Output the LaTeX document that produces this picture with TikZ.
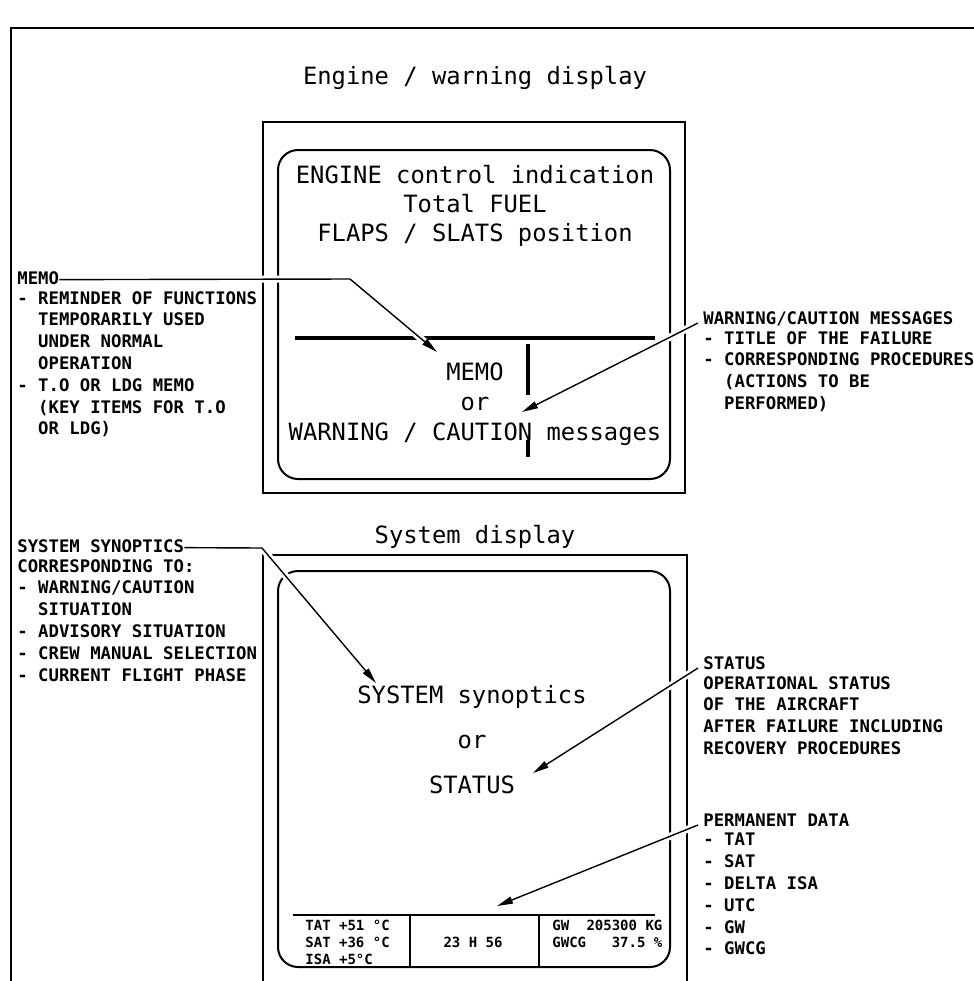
\documentclass[tikz,border=0pt]{standalone}
\usepackage{fontspec}
\setmonofont{DejaVu Sans Mono}
\usepackage{tikz}
\usetikzlibrary{arrows.meta,calc}
\tikzset{>/.tip={Triangle[length=8pt,width=3.6pt]}}
\newcommand{\lblind}{\phantom{- }}

\begin{document}
\begin{tikzpicture}[x=0.5pt,y=-0.5pt,
  disp/.style={font=\ttfamily\fontsize{11.9}{14.5}\selectfont, align=center, inner sep=0pt},
  lbl/.style={font=\ttfamily\bfseries\fontsize{8.65}{10.9}\selectfont, align=left, inner sep=0pt, execute at begin node=\strut},
  datatxt/.style={font=\ttfamily\bfseries\fontsize{7}{8.5}\selectfont, align=left, inner sep=0pt},
  dispframe/.style={line width=1pt},
  divider/.style={line width=2.2pt},
  leader/.style={line width=0.7pt, preaction={draw=white, line width=3.5pt, arrows=-, shorten >=6pt}}]
\useasboundingbox (0,0) rectangle (974,981);

% sheet border
\draw[line width=1pt] (11,981) -- (11,28) -- (974,28);

% engine / warning display
\node[disp] (ewdtitle) at (475,78) {Engine / warning display};
\draw[dispframe] (263,122) rectangle (685,493);
\draw[dispframe, rounded corners=10pt] (278,150) rectangle (670,479);
\node[disp] (engine) at (475,206) {ENGINE control indication\\Total FUEL\\FLAPS / SLATS position};
\draw[divider] (295,338) -- (655,338);
\draw[divider] (528,344) -- (528,395);
\draw[divider] (528,440) -- (528,457);
\node[disp] (memomsg) at (475,404) {MEMO\\[0.5pt]or\\[0.5pt]WARNING / CAUTION messages};

% system display
\node[disp] (systitle) at (475,537) {System display};
\draw[dispframe] (263,981) -- (263,555) -- (687,555) -- (687,981);
\draw[dispframe, rounded corners=10pt] (278,571) rectangle (670,967);
\node[disp] (synopt) at (472,740) {SYSTEM synoptics\\[8pt]or\\[8pt]STATUS};

% permanent data strip
\draw[line width=1.3pt] (293,915) -- (655,915);
\draw[dispframe] (410,915) -- (410,967) (539,915) -- (539,967);
\node[datatxt, anchor=west] (temps) at (305,942) {TAT +51 °C\\SAT +36 °C\\ISA +5°C};
\node[datatxt] (utc) at (473,942) {23 H 56};
\node[datatxt, anchor=west] (weight) at (552,934) {\makebox[55pt]{GW\hfill 205300 KG}\\\makebox[55pt]{GWCG\hfill 37.5 \%}};

% labels, left
\node[lbl, anchor=base west] (memo) at (17,284) {MEMO};
\node[lbl, anchor=north west] (memotxt) at (memo.south west)
  {- REMINDER OF FUNCTIONS\\\lblind TEMPORARILY USED\\\lblind UNDER NORMAL\\\lblind OPERATION\\
   - T.O OR LDG MEMO\\\lblind (KEY ITEMS FOR T.O\\\lblind OR LDG)};
\node[lbl, anchor=base west] (synhead) at (17,552) {SYSTEM SYNOPTICS};
\node[lbl, anchor=north west] (syntxt) at (synhead.south west)
  {CORRESPONDING TO:\\- WARNING/CAUTION\\\lblind SITUATION\\- ADVISORY SITUATION\\
   - CREW MANUAL SELECTION\\- CURRENT FLIGHT PHASE};

% labels, right
\node[lbl, anchor=base west] (warn) at (703,324) {WARNING/CAUTION MESSAGES};
\node[lbl, anchor=north west] (warntxt) at (warn.south west)
  {- TITLE OF THE FAILURE\\- CORRESPONDING PROCEDURES\\\lblind (ACTIONS TO BE\\\lblind PERFORMED)};
\node[lbl, anchor=base west] (status) at (703,669) {STATUS};
\node[lbl, anchor=north west] (statustxt) at (status.south west)
  {OPERATIONAL STATUS\\OF THE AIRCRAFT\\AFTER FAILURE INCLUDING\\RECOVERY PROCEDURES};
\node[lbl, anchor=base west] (perm) at (703,826) {PERMANENT DATA};
\node[lbl, anchor=north west] (permtxt) at (perm.south west)
  {- TAT\\- SAT\\- DELTA ISA\\- UTC\\- GW\\- GWCG};

% leaders
\coordinate (memobend) at (350,279);
\coordinate (memotip) at (437,352);
\coordinate (warntip) at (522,412);
\coordinate (synbend) at (262,548);
\coordinate (syntip) at (376,683);
\coordinate (statustip) at (533,773);
\coordinate (permtip) at (497,906);
\draw[leader,->] (memo.east) -- (memobend) -- (memotip);
\draw[leader,->] ($(warn.base west)+(-5,-1)$) -- (warntip);
\draw[leader,->] (synhead.east) -- (synbend) -- (syntip);
\draw[leader,->] ($(status.base west)+(-5,-1)$) -- (statustip);
\draw[leader,->] ($(perm.base west)+(-5,-1)$) -- (permtip);
\end{tikzpicture}
\end{document}
